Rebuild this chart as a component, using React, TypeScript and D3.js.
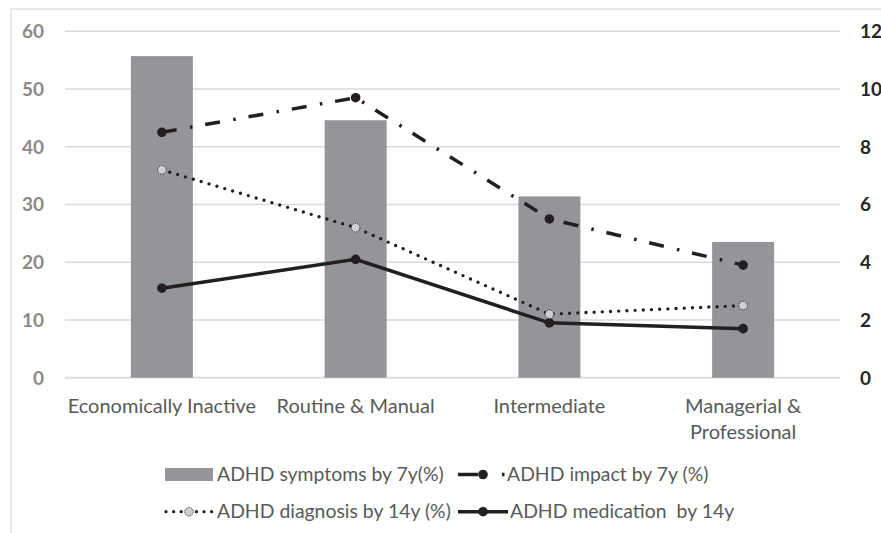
import React, { useEffect, useRef } from 'react';
import * as d3 from 'd3';

const categories = ['Economically Inactive', 'Routine & Manual', 'Intermediate', 'Managerial & Professional'];
const symptoms7y = [55.7, 44.6, 31.4, 23.5];
const impact7y = [8.5, 9.7, 5.5, 3.9];
const diagnosis14y = [7.2, 5.2, 2.2, 2.5];
const medication14y = [3.1, 4.1, 1.9, 1.7];
const leftTicks = [0, 10, 20, 30, 40, 50, 60];
const rightTicks = [0, 2, 4, 6, 8, 10, 12];

const W = 881;
const H = 533;
const FONT = 'Lato, "Open Sans", sans-serif';
const INK = '#231f20';

const App: React.FC = () => {
  const ref = useRef<SVGSVGElement>(null);

  useEffect(() => {
    const svg = d3.select(ref.current);
    svg.selectAll('*').remove();

    // chart frame
    svg.append('rect')
      .attr('x', 11).attr('y', 9)
      .attr('width', W).attr('height', H)
      .attr('fill', '#fff')
      .attr('stroke', '#d9d9d9')
      .attr('stroke-width', 1.2);

    const x = d3.scalePoint<string>().domain(categories).range([65, 840]).padding(0.5);
    const step = x.step();
    const yL = d3.scaleLinear().domain([0, 60]).range([377.7, 31.3]);
    const yR = d3.scaleLinear().domain([0, 12]).range([377.7, 31.3]);

    // gridlines
    svg.append('g')
      .selectAll('line')
      .data(leftTicks)
      .enter()
      .append('line')
      .attr('x1', 65).attr('x2', 840)
      .attr('y1', d => yL(d)).attr('y2', d => yL(d))
      .attr('stroke', '#d9d9d9')
      .attr('stroke-width', d => (d === 0 ? 1.8 : 1.4));

    // left axis labels
    svg.append('g')
      .selectAll('text')
      .data(leftTicks)
      .enter()
      .append('text')
      .attr('x', 44).attr('y', d => yL(d))
      .attr('dy', '0.36em')
      .attr('text-anchor', 'end')
      .style('font-family', FONT).style('font-size', '19px').style('font-weight', 'bold')
      .attr('fill', '#8a8a8a')
      .text(d => d);

    // right axis labels
    svg.append('g')
      .selectAll('text')
      .data(rightTicks)
      .enter()
      .append('text')
      .attr('x', 860).attr('y', d => yR(d))
      .attr('dy', '0.36em')
      .style('font-family', FONT).style('font-size', '19px').style('font-weight', 'bold')
      .attr('fill', '#262626')
      .text(d => d);

    // bars
    const bw = step * 0.32;
    svg.append('g')
      .selectAll('rect')
      .data(symptoms7y)
      .enter()
      .append('rect')
      .attr('x', (d, i) => x(categories[i])! - bw / 2)
      .attr('y', d => yL(d))
      .attr('width', bw)
      .attr('height', d => yL(0) - yL(d))
      .attr('fill', '#939598');

    const line = d3.line<number>()
      .x((d, i) => x(categories[i])!)
      .y(d => yR(d));

    // diagnosis (dotted)
    svg.append('path')
      .attr('d', line(diagnosis14y))
      .attr('fill', 'none').attr('stroke', INK)
      .attr('stroke-width', 3.4)
      .attr('stroke-linecap', 'round')
      .attr('stroke-dasharray', '0 8.2');

    // impact (long dash dot)
    svg.append('path')
      .attr('d', line(impact7y))
      .attr('fill', 'none').attr('stroke', INK)
      .attr('stroke-width', 3.5)
      .attr('stroke-dasharray', '15 13.5 2.5 13');

    // medication (solid)
    svg.append('path')
      .attr('d', line(medication14y))
      .attr('fill', 'none').attr('stroke', INK)
      .attr('stroke-width', 3.5);

    const dotMarkers = (vals: number[]) => {
      svg.append('g')
        .selectAll('circle')
        .data(vals)
        .enter()
        .append('circle')
        .attr('cx', (d, i) => x(categories[i])!)
        .attr('cy', d => yR(d))
        .attr('r', 4.8)
        .attr('fill', INK);
    };
    dotMarkers(impact7y);
    dotMarkers(medication14y);

    svg.append('g')
      .selectAll('circle')
      .data(diagnosis14y)
      .enter()
      .append('circle')
      .attr('cx', (d, i) => x(categories[i])!)
      .attr('cy', d => yR(d))
      .attr('r', 4.3)
      .attr('fill', '#cfcfcf')
      .attr('stroke', INK)
      .attr('stroke-width', 1)
      .attr('stroke-dasharray', '1.2 1.2');

    // category labels (wrap the last one)
    const catLines = (c: string) => (c === 'Managerial & Professional' ? ['Managerial &', 'Professional'] : [c]);
    const cat = svg.append('g')
      .selectAll('text')
      .data(categories)
      .enter()
      .append('text')
      .attr('x', d => x(d)!)
      .attr('y', 413)
      .attr('text-anchor', 'middle')
      .style('font-family', FONT).style('font-size', '20px')
      .attr('fill', '#595959');
    cat.selectAll('tspan')
      .data(d => catLines(d).map(t => ({ t, cx: x(d)! })))
      .enter()
      .append('tspan')
      .attr('x', d => d.cx)
      .attr('dy', (d, i) => (i === 0 ? 0 : 26))
      .text(d => d.t);

    // legend
    const lg = svg.append('g');
    const legText = (tx: number, ty: number, s: string) =>
      lg.append('text')
        .attr('x', tx).attr('y', ty)
        .style('font-family', FONT).style('font-size', '19.4px')
        .attr('fill', '#595959')
        .text(s);

    lg.append('rect').attr('x', 165).attr('y', 468).attr('width', 48).attr('height', 13).attr('fill', '#939598');
    legText(217, 481, 'ADHD symptoms by 7y(%)');

    lg.append('line').attr('x1', 458).attr('x2', 505).attr('y1', 474.5).attr('y2', 474.5)
      .attr('stroke', INK).attr('stroke-width', 3.5).attr('stroke-dasharray', '20 24 2.5 10');
    lg.append('circle').attr('cx', 483).attr('cy', 474.5).attr('r', 4.8).attr('fill', INK);
    legText(507, 481, 'ADHD impact by 7y (%)');

    lg.append('line').attr('x1', 166).attr('x2', 212).attr('y1', 511.7).attr('y2', 511.7)
      .attr('stroke', INK).attr('stroke-width', 3.2).attr('stroke-linecap', 'round').attr('stroke-dasharray', '0 7.6');
    lg.append('circle').attr('cx', 189).attr('cy', 511.7).attr('r', 4.3)
      .attr('fill', '#cfcfcf').attr('stroke', INK).attr('stroke-width', 1).attr('stroke-dasharray', '1.2 1.2');
    legText(217, 518, 'ADHD diagnosis by 14y (%)');

    lg.append('line').attr('x1', 458).attr('x2', 508).attr('y1', 511.7).attr('y2', 511.7)
      .attr('stroke', INK).attr('stroke-width', 3.5);
    lg.append('circle').attr('cx', 483).attr('cy', 511.7).attr('r', 4.8).attr('fill', INK);
    legText(510, 518, 'ADHD medication\u00a0 by 14y');
  }, []);

  return (
    <svg
      ref={ref}
      width={W}
      height={H}
      style={{ position: 'absolute', left: 0, top: 0, background: '#fff' }}
    />
  );
};

export default App;
